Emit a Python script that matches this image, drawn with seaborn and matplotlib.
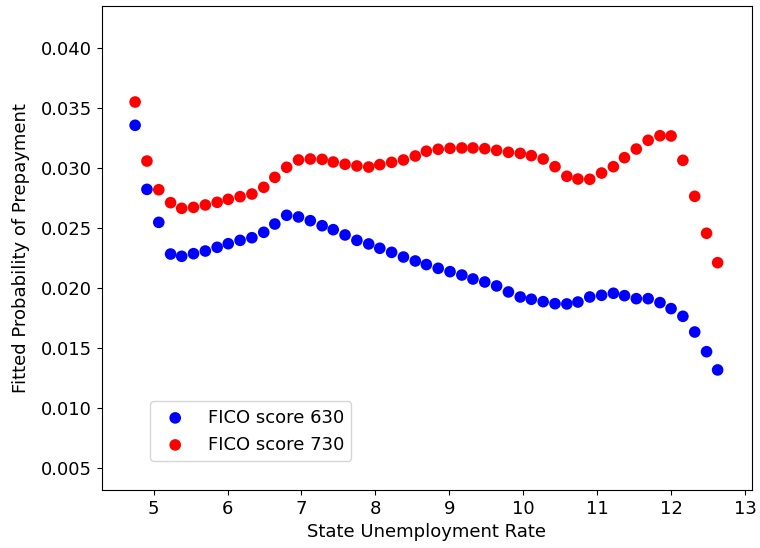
import numpy as np
import pandas as pd
import matplotlib
matplotlib.use("Agg")
import matplotlib.pyplot as plt
import seaborn as sns


unemp_rate = [4.75, 4.91, 5.07, 5.23, 5.38, 5.54, 5.70, 5.86, 6.01, 6.17,
              6.33, 6.49, 6.64, 6.80, 6.96, 7.12, 7.28, 7.43, 7.59, 7.75,
              7.91, 8.06, 8.22, 8.38, 8.54, 8.69, 8.85, 9.01, 9.17, 9.32,
              9.48, 9.64, 9.80, 9.96, 10.11, 10.27, 10.43, 10.59, 10.74, 10.90,
              11.06, 11.22, 11.37, 11.53, 11.69, 11.85, 12.00, 12.16, 12.32, 12.48,
              12.63]

fico_630 = [0.03356, 0.02822, 0.02547, 0.02283, 0.02264, 0.02286, 0.02308, 0.02339, 0.02369, 0.02397,
            0.02419, 0.02464, 0.02533, 0.02606, 0.02592, 0.02561, 0.02519, 0.02486, 0.02442, 0.02397,
            0.02367, 0.02331, 0.02297, 0.02258, 0.02225, 0.02195, 0.02164, 0.02136, 0.02108, 0.02075,
            0.02050, 0.02017, 0.01967, 0.01925, 0.01906, 0.01886, 0.01869, 0.01867, 0.01883, 0.01925,
            0.01939, 0.01956, 0.01936, 0.01911, 0.01911, 0.01878, 0.01828, 0.01764, 0.01633, 0.01469,
            0.01317]

fico_730 = [0.03550, 0.03058, 0.02819, 0.02711, 0.02664, 0.02672, 0.02692, 0.02714, 0.02739, 0.02761,
            0.02783, 0.02839, 0.02922, 0.03006, 0.03067, 0.03075, 0.03072, 0.03050, 0.03031, 0.03017,
            0.03008, 0.03028, 0.03047, 0.03067, 0.03100, 0.03140, 0.03156, 0.03164, 0.03167, 0.03167,
            0.03161, 0.03147, 0.03131, 0.03122, 0.03103, 0.03075, 0.03011, 0.02931, 0.02908, 0.02906,
            0.02958, 0.03011, 0.03086, 0.03158, 0.03231, 0.03269, 0.03267, 0.03064, 0.02764, 0.02456,
            0.02211]

df = pd.DataFrame({"rate": unemp_rate, "p630": fico_630, "p730": fico_730})

plt.rcParams["font.family"] = ["DejaVu Sans"]
plt.rcParams["font.size"] = 13

fig, ax = plt.subplots(figsize=(7.6, 5.48), dpi=100)
fig.subplots_adjust(left=0.134, right=0.989, top=0.989, bottom=0.106)

sns.scatterplot(x="rate", y="p630", data=df, color="blue", s=70, edgecolor="none",
                label="FICO score 630", ax=ax)
sns.scatterplot(x="rate", y="p730", data=df, color="red", s=70, edgecolor="none",
                label="FICO score 730", ax=ax)

ax.set_xlim(4.30, 13.09)
ax.set_ylim(0.00317, 0.0435)
ax.set_xticks(range(5, 14))
ax.set_yticks(np.arange(0.005, 0.0401, 0.005))
ax.set_yticklabels(["%.3f" % v for v in np.arange(0.005, 0.0401, 0.005)])
ax.set_xlabel("State Unemployment Rate")
ax.set_ylabel("Fitted Probability of Prepayment", labelpad=8)

ax.legend(loc="lower left", bbox_to_anchor=(0.074, 0.06), borderaxespad=0)

plt.savefig("out.png", dpi=100)
